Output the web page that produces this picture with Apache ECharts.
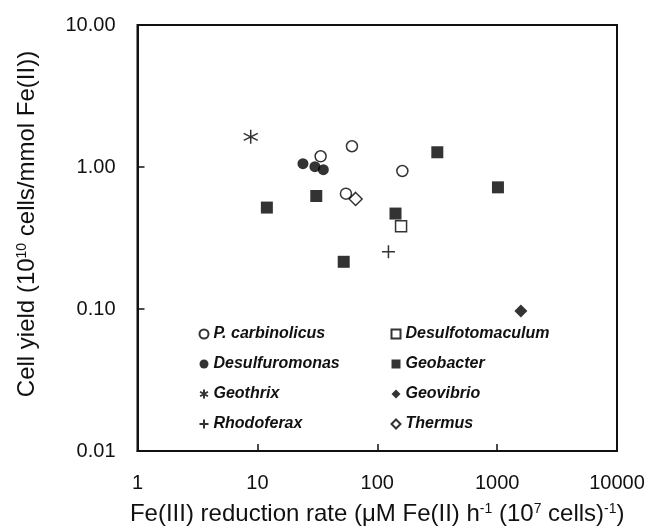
<!DOCTYPE html>
<html>
<head>
<meta charset="utf-8">
<script src="https://cdn.jsdelivr.net/npm/echarts@6/dist/echarts.min.js"></script>
<style>html,body{margin:0;padding:0;background:#fff}#c{width:655px;height:531px}</style>
</head>
<body>
<div id="c"></div>
<script>
// Data: [Fe(III) reduction rate, cell yield]
const pCarbinolicus = [[33.7, 1.19], [61.5, 1.40], [162, 0.937], [54.8, 0.649]];
const desulfuromonas = [[24.0, 1.055], [30.2, 1.005], [35.5, 0.957]];
const geothrix = [[8.8, 1.63]];
const rhodoferax = [[124, 0.253]];
const desulfotomaculum = [[158, 0.383]];
const geobacter = [[12.0, 0.518], [31.0, 0.625], [52.5, 0.215], [142, 0.47], [317, 1.27], [1016, 0.719]];
const geovibrio = [[1578, 0.097]];
const thermus = [[66, 0.596]];
const xTicks = [1, 10, 100, 1000, 10000];
const yTicks = [0.01, 0.1, 1, 10];

const FONT = '"Liberation Sans", Arial, sans-serif';
const openStyle = { color: '#fff', borderColor: '#000', borderWidth: 1.5 };
const fillStyle = { color: '#000', borderColor: '#000', borderWidth: 0 };
const strokeStyle = { color: '#000', borderColor: '#000', borderWidth: 1.5 };
const starPath = 'path://M0,-1L0,1M-0.87,-0.5L0.87,0.5M-0.87,0.5L0.87,-0.5';
const plusPath = 'path://M0,-1L0,1M-1,0L1,0';

const chart = echarts.init(document.getElementById('c'));
const legendText = { fontFamily: FONT, fontSize: 16, fontWeight: 'bold', fontStyle: 'italic', color: '#111', lineHeight: 16 };
const supStyle = { sup: { fontFamily: FONT, fontSize: 14, color: '#111', verticalAlign: 'top' } };
chart.setOption({
  animation: false,
  backgroundColor: '#fff',
  grid: { left: 137.5, right: 38, top: 25, bottom: 79, show: true, borderColor: '#111', borderWidth: 2, backgroundColor: 'transparent' },
  xAxis: {
    type: 'log', logBase: 10, min: xTicks[0], max: xTicks[xTicks.length - 1],
    axisLine: { show: true, lineStyle: { color: '#111', width: 2 } },
    axisTick: { show: true, inside: true, length: 7, lineStyle: { color: '#111', width: 1.5 } },
    splitLine: { show: false },
    axisLabel: { margin: 22, fontFamily: FONT, fontSize: 20, color: '#111', formatter: v => String(Math.round(v)) },
    name: 'Fe(III) reduction rate (μM Fe(II) h{sup|-1} (10{sup|7} cells){sup|-1})',
    nameLocation: 'middle', nameGap: 51,
    nameTextStyle: { fontFamily: FONT, fontSize: 24, color: '#111', rich: supStyle }
  },
  yAxis: {
    type: 'log', logBase: 10, min: yTicks[0], max: yTicks[yTicks.length - 1],
    axisLine: { show: true, lineStyle: { color: '#111', width: 2 } },
    axisTick: { show: true, inside: true, length: 7, lineStyle: { color: '#111', width: 1.5 } },
    splitLine: { show: false },
    axisLabel: { margin: 22, fontFamily: FONT, fontSize: 20, color: '#111', formatter: v => v.toFixed(2) },
    name: 'Cell yield (10{sup|10} cells/mmol Fe(II))',
    nameLocation: 'middle', nameGap: 98,
    nameTextStyle: { fontFamily: FONT, fontSize: 24, color: '#111', padding: [0, 0, 0, 28], rich: supStyle }
  },
  legend: [
    { orient: 'vertical', left: 193.5, top: 321, itemWidth: 9, itemHeight: 9, itemGap: 14, textStyle: legendText,
      data: ['P. carbinolicus', 'Desulfuromonas', 'Geothrix', 'Rhodoferax'] },
    { orient: 'vertical', left: 385.5, top: 321, itemWidth: 9, itemHeight: 9, itemGap: 14, textStyle: legendText,
      data: ['Desulfotomaculum', 'Geobacter', 'Geovibrio', 'Thermus'] }
  ],
  series: [
    { name: 'Desulfuromonas', type: 'scatter', data: desulfuromonas, symbol: 'circle', symbolSize: 11, itemStyle: fillStyle },
    { name: 'Geobacter', type: 'scatter', data: geobacter, symbol: 'rect', symbolSize: 12, itemStyle: fillStyle },
    { name: 'Geovibrio', type: 'scatter', data: geovibrio, symbol: 'diamond', symbolSize: 13, itemStyle: fillStyle },
    { name: 'P. carbinolicus', type: 'scatter', data: pCarbinolicus, symbol: 'circle', symbolSize: 11, itemStyle: openStyle },
    { name: 'Desulfotomaculum', type: 'scatter', data: desulfotomaculum, symbol: 'rect', symbolSize: 11, itemStyle: openStyle },
    { name: 'Thermus', type: 'scatter', data: thermus, symbol: 'diamond', symbolSize: 13, itemStyle: openStyle },
    { name: 'Geothrix', type: 'scatter', data: geothrix, symbol: starPath, symbolSize: 14, itemStyle: strokeStyle },
    { name: 'Rhodoferax', type: 'scatter', data: rhodoferax, symbol: plusPath, symbolSize: 13, itemStyle: strokeStyle }
  ]
});
</script>
</body>
</html>
